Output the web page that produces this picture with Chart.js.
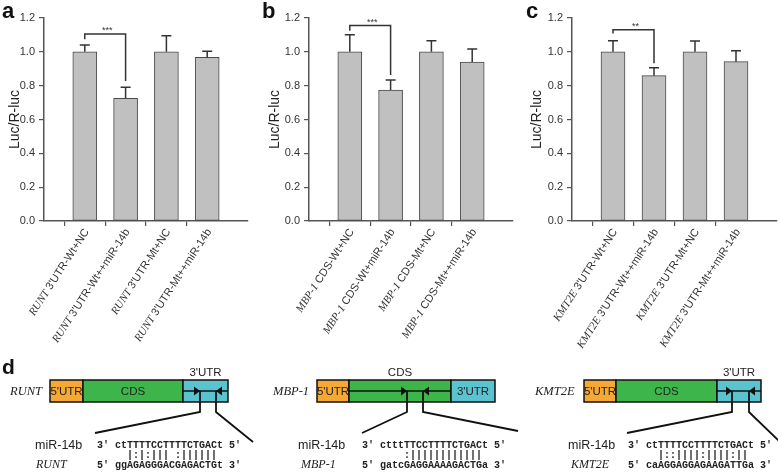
<!DOCTYPE html>
<html><head><meta charset="utf-8">
<script src="https://cdn.jsdelivr.net/npm/chart.js@4.4.1/dist/chart.umd.min.js"></script>
<style>
html,body{margin:0;padding:0;background:#fff;}
#wrap{position:relative;width:778px;height:473px;overflow:hidden;font-family:"Liberation Sans",Arial,sans-serif;}
.cv{position:absolute;top:0;}
.letter{position:absolute;font:bold 22px "Liberation Sans",Arial,sans-serif;color:#111;line-height:22px;}
</style></head><body>
<div id="wrap">
<canvas class="cv" id="cd" width="778" height="473" style="left:0"></canvas>
<canvas class="cv" id="ca" width="260" height="350" style="left:0"></canvas>
<canvas class="cv" id="cb" width="260" height="350" style="left:260px"></canvas>
<canvas class="cv" id="cc" width="258" height="350" style="left:520px"></canvas>
<div class="letter" style="left:2px;top:0px">a</div>
<div class="letter" style="left:262px;top:0px">b</div>
<div class="letter" style="left:526px;top:0px">c</div>
<div class="letter" style="left:2px;top:356px;font-size:21px">d</div>
</div>
<script>
// ---------- data ----------
const yTickValues = [0, 0.2, 0.4, 0.6, 0.8, 1.0, 1.2];
const geneA = "RUNT";
const labelsA = ["3'UTR-Wt+NC", "3'UTR-Wt++miR-14b", "3'UTR-Mt+NC", "3'UTR-Mt++miR-14b"];
const valuesA = [1.00, 0.725, 1.00, 0.967];
const errorsA = [0.040, 0.065, 0.095, 0.036];
const sigA = {from: 0, to: 1, top: 1.105, leftEnd: 1.075, rightEnd: 0.828, text: "***"};

const geneB = "MBP-1";
const labelsB = ["CDS-Wt+NC", "CDS-Wt+miR-14b", "CDS-Mt+NC", "CDS-Mt++miR-14b"];
const valuesB = [1.00, 0.774, 1.00, 0.940];
const errorsB = [0.101, 0.059, 0.066, 0.077];
const sigB = {from: 0, to: 1, top: 1.155, leftEnd: 1.125, rightEnd: 0.863, text: "***"};

const geneC = "KMT2E";
const labelsC = ["3'UTR-Wt+NC", "3'UTR-Wt++miR-14b", "3'UTR-Mt+NC", "3'UTR-Mt++miR-14b"];
const valuesC = [1.00, 0.859, 1.00, 0.942];
const errorsC = [0.066, 0.047, 0.064, 0.065];
const sigC = {from: 0, to: 1, top: 1.131, leftEnd: 1.109, rightEnd: 0.932, text: "**"};

const mirName = "miR-14b";
const mirSeqs = ["3' ctTTTTCCTTTTCTGACt 5'", "3' ctttTTCCTTTTCTGACt 5'", "3' ctTTTTCCTTTTCTGACt 5'"];
const pairLines = ["     |:|:||| :||||||", "       :||||||||||||", "     |::||||:||||:||"];
const targetSeqs = ["5' ggAGAGGGACGAGACTGt 3'", "5' gatcGAGGAAAAGACTGa 3'", "5' caAGGAGGAGAAGATTGa 3'"];

// ---------- charts ----------
const AXIS = '#555';
function makeChart(id, gene, labels, values, errors, sig, axisWidth, titlePad, padRight) {
  const cats = [''].concat(labels).concat(['']);
  const data = [null].concat(values).concat([null]);
  const plug = {
    id: 'extras_' + id,
    afterDatasetsDraw(chart) {
      const ctx = chart.ctx, xs = chart.scales.x, ys = chart.scales.y;
      ctx.save();
      ctx.strokeStyle = '#333'; ctx.lineWidth = 1.5;
      values.forEach((v, i) => {
        const x = xs.getPixelForTick(i + 1);
        const y0 = ys.getPixelForValue(v), y1 = ys.getPixelForValue(v + errors[i]);
        ctx.beginPath();
        ctx.moveTo(x, y0); ctx.lineTo(x, y1);
        ctx.moveTo(x - 5, y1); ctx.lineTo(x + 5, y1);
        ctx.stroke();
      });
      const x1 = xs.getPixelForTick(sig.from + 1), x2 = xs.getPixelForTick(sig.to + 1);
      const yt = ys.getPixelForValue(sig.top);
      ctx.beginPath();
      ctx.moveTo(x1, ys.getPixelForValue(sig.leftEnd));
      ctx.lineTo(x1, yt); ctx.lineTo(x2, yt);
      ctx.lineTo(x2, ys.getPixelForValue(sig.rightEnd));
      ctx.stroke();
      ctx.fillStyle = '#333';
      ctx.font = '9px "Liberation Sans", Arial, sans-serif';
      ctx.textAlign = 'center'; ctx.textBaseline = 'bottom';
      ctx.fillText(sig.text, (x1 + x2) / 2 + 2, yt + 1);
      ctx.restore();
    },
    afterDraw(chart) {
      const ctx = chart.ctx, xs = chart.scales.x;
      const ang = 57 * Math.PI / 180;
      labels.forEach((lab, i) => {
        const x = xs.getPixelForTick(i + 1);
        const y = xs.top + 9;
        ctx.save();
        ctx.translate(x + 2, y);
        ctx.rotate(-ang);
        ctx.textAlign = 'right'; ctx.textBaseline = 'middle';
        ctx.fillStyle = '#333';
        ctx.font = '11px "Liberation Sans", Arial, sans-serif';
        ctx.fillText(lab, 0, 0);
        const w = ctx.measureText(lab).width;
        ctx.font = 'italic 11px "Liberation Serif", "Times New Roman", serif';
        ctx.fillText(gene + ' ', -w, 0);
        ctx.restore();
      });
    }
  };
  return new Chart(document.getElementById(id), {
    type: 'bar',
    data: {labels: cats, datasets: [{data: data, backgroundColor: '#c0c0c0', borderColor: '#4a4a4a', borderWidth: 1, borderSkipped: false, barThickness: 24}]},
    options: {
      responsive: false, animation: false,
      layout: {padding: {left: 0, right: padRight, top: 18, bottom: 0}},
      plugins: {legend: {display: false}, tooltip: {enabled: false}},
      scales: {
        x: {
          type: 'category', offset: false,
          grid: {drawOnChartArea: false, drawTicks: true, tickLength: 5, lineWidth: 1.2,
                 color: c => (c.index === 0 || c.index === cats.length - 1) ? 'rgba(0,0,0,0)' : AXIS},
          border: {display: true, color: AXIS, width: 1.5},
          ticks: {display: false},
          afterFit: s => { s.height = 350 - 221; }
        },
        y: {
          min: 0, max: 1.2,
          afterBuildTicks: s => { s.ticks = yTickValues.map(v => ({value: v})); },
          grid: {drawOnChartArea: false, drawTicks: true, tickLength: 5, color: AXIS, lineWidth: 1.2},
          border: {display: true, color: AXIS, width: 1.5},
          ticks: {color: '#333', padding: 4, font: {family: '"Liberation Sans", Arial, sans-serif', size: 11},
                  callback: v => Number(v).toFixed(1)},
          title: {display: true, text: 'Luc/R-luc', color: '#222', padding: {top: titlePad, bottom: 0},
                  font: {family: '"Liberation Sans", Arial, sans-serif', size: 14}},
          afterFit: s => { s.width = axisWidth; }
        }
      }
    },
    plugins: [plug]
  });
}
makeChart('ca', geneA, labelsA, valuesA, errorsA, sigA, 44, 7, 12);
makeChart('cb', geneB, labelsB, valuesB, errorsB, sigB, 49, 7, 7);
makeChart('cc', geneC, labelsC, valuesC, errorsC, sigC, 52, 9, 1);

// ---------- panel d schematic (canvas) ----------
const constructs = [
  {gene: geneA, gx: 10, b: [50, 83, 183, 228], region: 2, tips: [200, 216],
   leftEnd: [95, 433], rightEnd: [253, 442], mx: 35, sx: 97, lgx: 36},
  {gene: geneB, gx: 273, b: [317, 349, 451, 495], region: 1, tips: [407, 423],
   leftEnd: [362, 433], rightEnd: [518, 431], mx: 298, sx: 362, lgx: 301},
  {gene: geneC, gx: 535, b: [584, 616, 717, 761], region: 2, tips: [732, 749],
   leftEnd: [627, 433], rightEnd: [779, 441], mx: 568, sx: 628, lgx: 571}
];
const colors = ['#f6a835', '#3db54a', '#5bc3cf'];
const segNames = ["5'UTR", "CDS", "3'UTR"];
const SANS = '"Liberation Sans", Arial, sans-serif', SERIF = '"Liberation Serif", "Times New Roman", serif', MONO = '"Liberation Mono", "Courier New", monospace';
const dctx = document.getElementById('cd').getContext('2d');
const yTop = 380, yBot = 402, yMid = 391;
dctx.fillStyle = '#fff'; dctx.fillRect(0, 0, 778, 473);
constructs.forEach((c, k) => {
  const g = dctx;
  g.fillStyle = '#222'; g.textBaseline = 'alphabetic';
  g.font = 'italic 12.5px ' + SERIF; g.textAlign = 'left';
  g.fillText(c.gene, c.gx, 395);
  for (let j = 0; j < 3; j++) {
    g.fillStyle = colors[j];
    g.fillRect(c.b[j], yTop, c.b[j+1] - c.b[j], yBot - yTop);
    g.strokeStyle = '#111'; g.lineWidth = 1.5;
    g.strokeRect(c.b[j], yTop, c.b[j+1] - c.b[j], yBot - yTop);
    const cx = (c.b[j] + c.b[j+1]) / 2;
    g.fillStyle = '#222'; g.font = '11.5px ' + SANS; g.textAlign = 'center';
    g.fillText(segNames[j], cx, j === c.region ? 376 : 395);
  }
  const r0 = c.b[c.region], r1 = c.b[c.region + 1];
  g.strokeStyle = '#111'; g.lineWidth = 1.5;
  g.beginPath(); g.moveTo(r0, yMid); g.lineTo(r1, yMid); g.stroke();
  const [t1, t2] = c.tips;
  g.fillStyle = '#111';
  g.beginPath(); g.moveTo(t1, yMid); g.lineTo(t1 - 6, yMid - 4.5); g.lineTo(t1 - 6, yMid + 4.5); g.closePath(); g.fill();
  g.beginPath(); g.moveTo(t2, yMid); g.lineTo(t2 + 6, yMid - 4.5); g.lineTo(t2 + 6, yMid + 4.5); g.closePath(); g.fill();
  g.lineWidth = 1.8; g.lineJoin = 'miter';
  g.beginPath(); g.moveTo(t1, yMid); g.lineTo(t1, 412); g.lineTo(c.leftEnd[0], c.leftEnd[1]); g.stroke();
  g.beginPath(); g.moveTo(t2, yMid); g.lineTo(t2, 412); g.lineTo(c.rightEnd[0], c.rightEnd[1]); g.stroke();
  g.fillStyle = '#222'; g.textAlign = 'left';
  g.font = '12.5px ' + SANS;
  g.fillText(mirName, c.mx, 449);
  g.font = 'bold 10px ' + MONO;
  g.fillText(mirSeqs[k], c.sx, 448);
  g.fillText(pairLines[k], c.sx, 458);
  g.fillText(targetSeqs[k], c.sx, 468);
  g.font = 'italic 12px ' + SERIF;
  g.fillText(c.gene, c.lgx, 468);
});
</script>
</body></html>
